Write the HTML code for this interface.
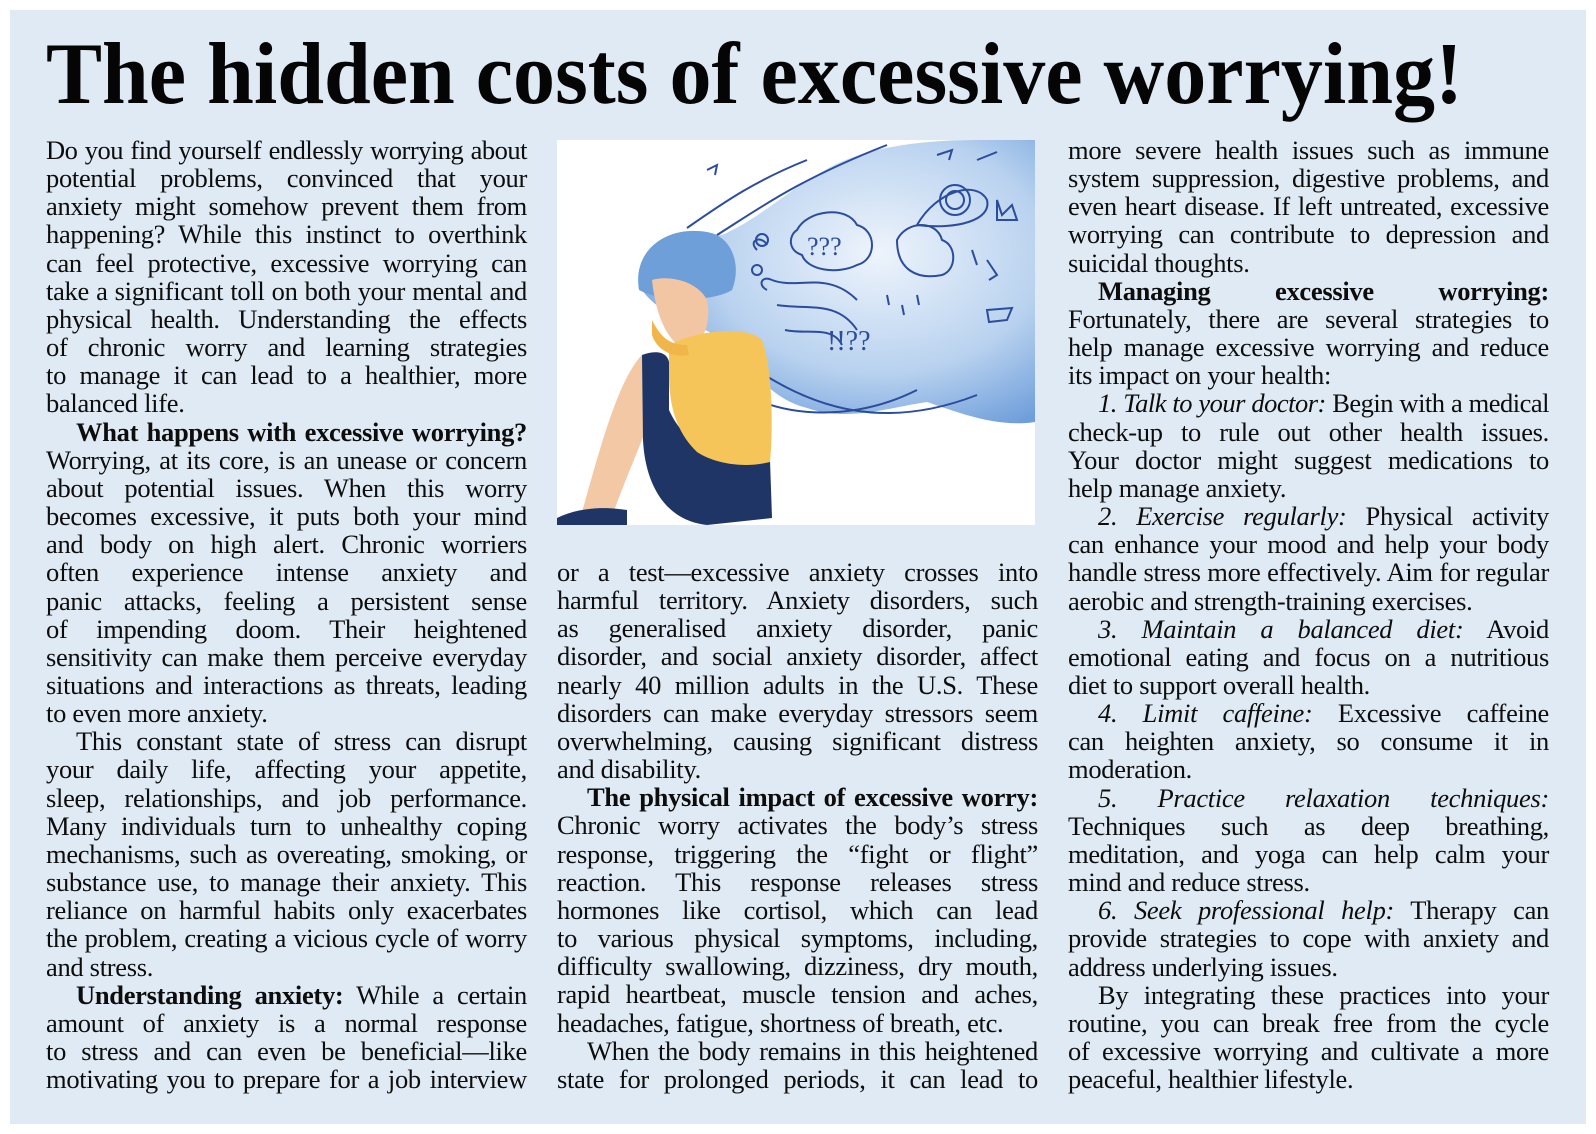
<!DOCTYPE html>
<html><head><meta charset="utf-8">
<style>
html,body{margin:0;padding:0;background:#fff;}
body{width:1596px;height:1134px;position:relative;overflow:hidden;font-family:"Liberation Serif",serif;color:#111;}
#bg{position:absolute;left:10px;top:10px;width:1576px;height:1114px;background:#e0eaf4;}
.col{position:absolute;width:481px;}
.ln{height:28.17px;line-height:28.17px;font-size:26.5px;white-space:nowrap;text-align:justify;text-align-last:justify;letter-spacing:-0.3px;overflow:visible;color:#0d0d0d;}
.ln.last{text-align:left;text-align-last:left;}
.ln.ind{padding-left:30px;box-sizing:border-box;}
</style></head>
<body>
<div id="bg"></div>
<svg style="position:absolute;left:0;top:0" width="1596" height="130">
<text x="46" y="103" font-family="Liberation Serif, serif" font-weight="bold" font-size="88" textLength="1417" lengthAdjust="spacingAndGlyphs" fill="#050505">The hidden costs of excessive worrying!</text>
</svg>
<div class="col" id="c1" style="left:46px;top:136px"></div>
<div class="col" id="c2" style="left:557px;top:558px"></div>
<div class="col" id="c3" style="left:1068px;top:136px"></div>

<svg style="position:absolute;left:557px;top:140px" width="478" height="385" viewBox="0 0 478 385">
<defs><radialGradient id="cg" cx="0.6" cy="0.4" r="0.7"><stop offset="0" stop-color="#eef4fc"/><stop offset="0.6" stop-color="#b9d2ef"/><stop offset="1" stop-color="#6e9edb"/></radialGradient></defs>
<rect width="478" height="385" fill="#fff"/>
<path d="M85 150 C85 105 125 88 165 95 C200 80 225 55 260 35 C300 8 360 0 420 0 L478 0 L478 282 C440 288 400 272 370 262 C330 268 290 282 250 268 C210 258 190 222 170 202 C140 182 105 178 85 150 Z" fill="url(#cg)"/>
<g fill="none" stroke="#2b4d9c" stroke-width="2">
<path d="M160 95 C200 70 240 40 330 5"/><path d="M180 250 C230 280 300 280 360 250"/>
<path d="M130 88 C170 60 200 40 250 20"/><path d="M200 230 C260 270 330 290 420 255"/>
<path d="M240 90 C250 70 290 65 300 85 C320 90 320 120 300 125 C280 135 250 130 245 115 C230 110 232 95 240 90Z"/>
<path d="M340 100 C350 80 380 80 385 100 C400 105 400 130 385 135 C360 140 340 130 340 100Z"/>
<circle cx="398" cy="60" r="15"/><circle cx="398" cy="60" r="9"/><path d="M360 85 C380 50 420 40 430 60 C435 80 400 90 360 85Z"/>
<path d="M215 140 C240 150 270 130 300 160"/><path d="M220 165 C250 170 280 160 300 190"/>
<path d="M228 190 C250 195 275 185 285 205"/>
<circle cx="205" cy="100" r="6"/><circle cx="200" cy="130" r="5"/><path d="M210 150 C200 145 205 135 215 140"/>
<path d="M150 30 L160 25 L158 35"/><path d="M380 15 L395 10 L392 20"/><path d="M420 20 L440 12"/>
<path d="M330 155 L332 165"/><path d="M345 165 L347 175"/><path d="M360 155 L362 165"/>
<path d="M415 110 L420 125"/><path d="M430 120 L440 135 L432 140"/>
<text x="270" y="210" font-family="Liberation Serif,serif" font-size="28" fill="#2b4d9c" stroke="none">!!??</text>
<text x="250" y="115" font-family="Liberation Serif,serif" font-size="26" fill="#2b4d9c" stroke="none">???</text>
<path d="M440 60 L445 75 L455 65 L460 80 L440 80Z"/><path d="M200 110 C190 100 205 95 210 105"/>
<path d="M430 170 L455 168 L450 180 L432 182Z"/>
</g>
<path d="M82 150 C75 110 110 85 150 92 C175 96 185 125 175 150 C160 160 110 165 82 150Z" fill="#6f9fd8"/>
<path d="M95 140 C110 135 140 140 150 160 C155 185 145 205 130 210 C115 205 100 185 95 140Z" fill="#f3c6a3"/>
<path d="M85 215 C60 240 40 320 25 372 L55 376 C72 330 90 290 100 260 Z" fill="#f2c8a5"/>
<path d="M0 378 C20 368 45 366 70 370 L70 385 L0 385Z" fill="#1f3566"/>
<path d="M85 215 C105 208 115 215 112 232 L112 270 C130 310 170 325 213 320 L215 378 L150 385 C105 380 88 340 86 300 Z" fill="#1f3566"/>
<path d="M112 205 C140 190 190 185 205 200 C216 230 216 290 213 322 C190 328 160 325 140 312 C122 295 112 270 112 235 Z" fill="#f5c55a"/>
<path d="M95 180 C105 200 115 205 130 205 L132 215 C115 218 100 210 95 195Z" fill="#f0b64a"/>
</svg>

<script>
var col1 = [
"Do you find yourself endlessly worrying about",
"potential problems, convinced that your",
"anxiety might somehow prevent them from",
"happening? While this instinct to overthink",
"can feel protective, excessive worrying can",
"take a significant toll on both your mental and",
"physical health. Understanding the effects",
"of chronic worry and learning strategies",
"to manage it can lead to a healthier, more",
"~balanced life.",
">!<b>What happens with excessive worrying?</b>",
"Worrying, at its core, is an unease or concern",
"about potential issues. When this worry",
"becomes excessive, it puts both your mind",
"and body on high alert. Chronic worriers",
"often experience intense anxiety and",
"panic attacks, feeling a persistent sense",
"of impending doom. Their heightened",
"sensitivity can make them perceive everyday",
"situations and interactions as threats, leading",
"~to even more anxiety.",
">This constant state of stress can disrupt",
"your daily life, affecting your appetite,",
"sleep, relationships, and job performance.",
"Many individuals turn to unhealthy coping",
"mechanisms, such as overeating, smoking, or",
"substance use, to manage their anxiety. This",
"reliance on harmful habits only exacerbates",
"the problem, creating a vicious cycle of worry",
"~and stress.",
"><b>Understanding anxiety:</b> While a certain",
"amount of anxiety is a normal response",
"to stress and can even be beneficial\u2014like",
"motivating you to prepare for a job interview"
];
var col2 = [
"or a test\u2014excessive anxiety crosses into",
"harmful territory. Anxiety disorders, such",
"as generalised anxiety disorder, panic",
"disorder, and social anxiety disorder, affect",
"nearly 40 million adults in the U.S. These",
"disorders can make everyday stressors seem",
"overwhelming, causing significant distress",
"~and disability.",
"><b>The physical impact of excessive worry:</b>",
"Chronic worry activates the body\u2019s stress",
"response, triggering the \u201cfight or flight\u201d",
"reaction. This response releases stress",
"hormones like cortisol, which can lead",
"to various physical symptoms, including,",
"difficulty swallowing, dizziness, dry mouth,",
"rapid heartbeat, muscle tension and aches,",
"~headaches, fatigue, shortness of breath, etc.",
">When the body remains in this heightened",
"state for prolonged periods, it can lead to"
];
var col3 = [
"more severe health issues such as immune",
"system suppression, digestive problems, and",
"even heart disease. If left untreated, excessive",
"worrying can contribute to depression and",
"~suicidal thoughts.",
"><b>Managing excessive worrying:</b>",
"Fortunately, there are several strategies to",
"help manage excessive worrying and reduce",
"~its impact on your health:",
"><i>1. Talk to your doctor:</i> Begin with a medical",
"check-up to rule out other health issues.",
"Your doctor might suggest medications to",
"~help manage anxiety.",
"><i>2. Exercise regularly:</i> Physical activity",
"can enhance your mood and help your body",
"handle stress more effectively. Aim for regular",
"~aerobic and strength-training exercises.",
"><i>3. Maintain a balanced diet:</i> Avoid",
"emotional eating and focus on a nutritious",
"~diet to support overall health.",
"><i>4. Limit caffeine:</i> Excessive caffeine",
"can heighten anxiety, so consume it in",
"~moderation.",
"><i>5. Practice relaxation techniques:</i>",
"Techniques such as deep breathing,",
"meditation, and yoga can help calm your",
"~mind and reduce stress.",
"><i>6. Seek professional help:</i> Therapy can",
"provide strategies to cope with anxiety and",
"~address underlying issues.",
">By integrating these practices into your",
"routine, you can break free from the cycle",
"of excessive worrying and cultivate a more",
"~peaceful, healthier lifestyle."
];
function fill(id, lines){
  var c = document.getElementById(id);
  for (var i=0;i<lines.length;i++){
    var s = lines[i];
    var d = document.createElement('div');
    
    
    d.className = 'ln';
    if (s.charAt(0)==='>'){ d.className += ' ind'; s = s.slice(1); }
    if (s.charAt(0)==='!'){ s = s.slice(1); }
    if (s.charAt(0)==='~'){ d.className += ' last'; s = s.slice(1); }
    d.innerHTML = s;
    c.appendChild(d);
    var ls = -0.3;
    while (d.scrollWidth > d.clientWidth + 1 && ls > -2.5){ ls -= 0.2; d.style.letterSpacing = ls + 'px'; }
  }
}
fill('c1', col1); fill('c2', col2); fill('c3', col3);
</script>
</body></html>
